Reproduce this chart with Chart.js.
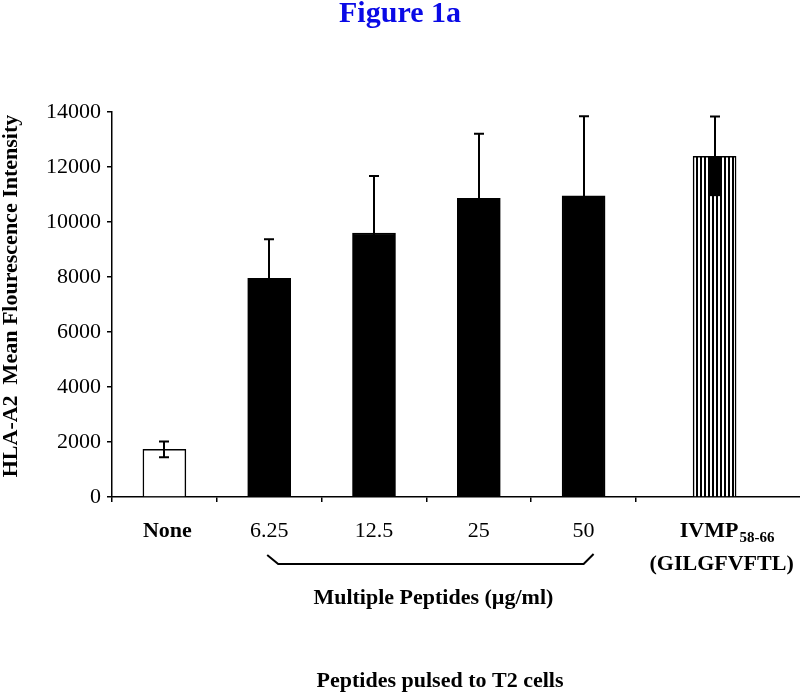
<!DOCTYPE html>
<html><head><meta charset="utf-8">
<script src="https://cdn.jsdelivr.net/npm/chart.js@4/dist/chart.umd.min.js"></script>
<style>html,body{margin:0;padding:0;background:#fff;} #wrap{width:800px;height:698px;position:relative;}</style>
</head><body><div id="wrap"><canvas id="c" width="800" height="698"></canvas></div>
<script>
// ---- data ----
const categories = ['None', '6.25', '12.5', '25', '50', 'IVMP'];
const meanValues = [1730, 7950, 9600, 10860, 10950, 12390];
const errorValues = [285, 1420, 2070, 2350, 2900, 1450];
const yTickValues = [0, 2000, 4000, 6000, 8000, 10000, 12000, 14000];
const xTickValues = [0, 1, 2, 3, 4, 5];
const titleText = 'Figure 1a';
const yAxisTitle = 'HLA-A2  Mean Flourescence Intensity';
const groupLabel = 'Multiple Peptides (\u00B5g/ml)';
const bottomLabel = 'Peptides pulsed to T2 cells';
const ivmpMain = 'IVMP';
const ivmpSub = '58-66';
const ivmpSeq = '(GILGFVFTL)';

// ---- layout (slot positions on the linear x axis, styles) ----
const barSlots = [0.5, 1.5, 2.5, 3.5, 4.5, 5.75];
const SERIF = '"Liberation Serif", "Times New Roman", Times, serif';

const ctx0 = document.getElementById('c').getContext('2d');
const stripes = (() => {
  const p = document.createElement('canvas'); p.width = 4; p.height = 4;
  const g = p.getContext('2d');
  g.fillStyle = '#fff'; g.fillRect(0, 0, 4, 4);
  g.fillStyle = '#000'; g.fillRect(0, 0, 2, 4);
  return ctx0.createPattern(p, 'repeat');
})();
const barFills = ['#ffffff', '#000000', '#000000', '#000000', '#000000', stripes];
const solidLower = [false, false, false, false, false, true];

const errorBarPlugin = {
  id: 'errorBars',
  afterDatasetsDraw(chart) {
    const ctx = chart.ctx;
    const meta = chart.getDatasetMeta(0);
    const y = chart.scales.y;
    ctx.save();
    ctx.strokeStyle = '#000';
    ctx.fillStyle = '#000';
    ctx.lineWidth = 2;
    meta.data.forEach((bar, i) => {
      const cx = Math.round(bar.x);
      const yTop = y.getPixelForValue(meanValues[i] + errorValues[i]);
      const yMid = y.getPixelForValue(meanValues[i]);
      const yBot = y.getPixelForValue(meanValues[i] - errorValues[i]);
      const cap = 5;
      ctx.beginPath();
      ctx.moveTo(cx, yMid); ctx.lineTo(cx, yTop);
      ctx.moveTo(cx - cap, yTop); ctx.lineTo(cx + cap, yTop);
      ctx.stroke();
      if (solidLower[i]) {
        ctx.fillRect(cx - cap, yMid, cap * 2, yBot - yMid);
      } else {
        ctx.beginPath();
        ctx.moveTo(cx, yMid); ctx.lineTo(cx, yBot);
        ctx.moveTo(cx - cap, yBot); ctx.lineTo(cx + cap, yBot);
        ctx.stroke();
      }
    });
    ctx.restore();
  }
};

const textPlugin = {
  id: 'texts',
  afterDraw(chart) {
    const ctx = chart.ctx;
    const meta = chart.getDatasetMeta(0);
    const area = chart.chartArea;
    ctx.save();
    ctx.fillStyle = '#0a0ae6';
    ctx.textAlign = 'center';
    ctx.textBaseline = 'alphabetic';
    ctx.font = 'bold 30px ' + SERIF;
    ctx.fillText(titleText, 400, 22);

    // y axis title
    ctx.fillStyle = '#000';
    ctx.save();
    ctx.translate(17, 296);
    ctx.rotate(-Math.PI / 2);
    ctx.font = 'bold 22px ' + SERIF;
    ctx.fillText(yAxisTitle, 0, 0);
    ctx.restore();

    // category labels
    const labelY = area.bottom + 40;
    for (let i = 0; i < 5; i++) {
      const x = meta.data[i].x;
      ctx.font = (i === 0 ? 'bold ' : '') + '22px ' + SERIF;
      ctx.fillText(categories[i], x + (i === 0 ? 3 : 0), labelY);
    }
    // IVMP label with subscript
    const ix = meta.data[5].x;
    ctx.font = 'bold 22px ' + SERIF;
    const w1 = ctx.measureText(ivmpMain).width;
    ctx.font = 'bold 15px ' + SERIF;
    const w2 = ctx.measureText(ivmpSub).width;
    const startX = ix + 12 - (w1 + w2) / 2;
    ctx.textAlign = 'left';
    ctx.font = 'bold 22px ' + SERIF;
    ctx.fillText(ivmpMain, startX, labelY);
    ctx.font = 'bold 15px ' + SERIF;
    ctx.fillText(ivmpSub, startX + w1 + 1, labelY + 5);
    ctx.textAlign = 'center';
    ctx.font = 'bold 22px ' + SERIF;
    ctx.fillText(ivmpSeq, ix + 7, labelY + 33);

    // bracket under multiple peptide group
    const bx1 = meta.data[1].x - 2, bx2 = meta.data[4].x + 10;
    ctx.strokeStyle = '#000';
    ctx.lineWidth = 2;
    ctx.beginPath();
    ctx.moveTo(bx1, labelY + 18);
    ctx.lineTo(bx1 + 11, labelY + 27);
    ctx.lineTo(bx2 - 10, labelY + 27);
    ctx.lineTo(bx2, labelY + 17);
    ctx.stroke();

    ctx.font = 'bold 22px ' + SERIF;
    ctx.fillText(groupLabel, (bx1 + bx2) / 2 + 3, labelY + 67);
    ctx.fillText(bottomLabel, 440, 687);
    ctx.restore();
  }
};

new Chart(document.getElementById('c'), {
  type: 'bar',
  data: {
    datasets: [{
      data: barSlots.map((s, i) => ({ x: s, y: meanValues[i] })),
      backgroundColor: barFills,
      borderColor: '#000',
      borderWidth: 1.5,
      barThickness: 43
    }]
  },
  options: {
    responsive: false,
    animation: false,
    devicePixelRatio: 1,
    layout: { padding: { top: 112, left: 0, right: 0, bottom: 0 } },
    plugins: { legend: { display: false }, tooltip: { enabled: false }, title: { display: false } },
    scales: {
      x: {
        type: 'linear',
        offset: false,
        min: 0,
        max: 6.565,
        ticks: { display: false },
        grid: { offset: false, drawOnChartArea: false, color: '#000', tickLength: 5, lineWidth: 1.5 },
        border: { color: '#000', width: 1.5 },
        afterBuildTicks(s) { s.ticks = xTickValues.map(v => ({ value: v })); },
        afterFit(s) { s.height = 201; }
      },
      y: {
        min: 0,
        max: 14000,
        ticks: { color: '#000', font: { family: SERIF, size: 22 }, padding: 6, callback: v => String(v) },
        grid: { drawOnChartArea: false, color: '#000', tickLength: 5, lineWidth: 1.5 },
        border: { color: '#000', width: 1.5 },
        afterBuildTicks(s) { s.ticks = yTickValues.map(v => ({ value: v })); },
        afterFit(s) { s.width = 112; }
      }
    }
  },
  plugins: [errorBarPlugin, textPlugin]
});
</script></body></html>
